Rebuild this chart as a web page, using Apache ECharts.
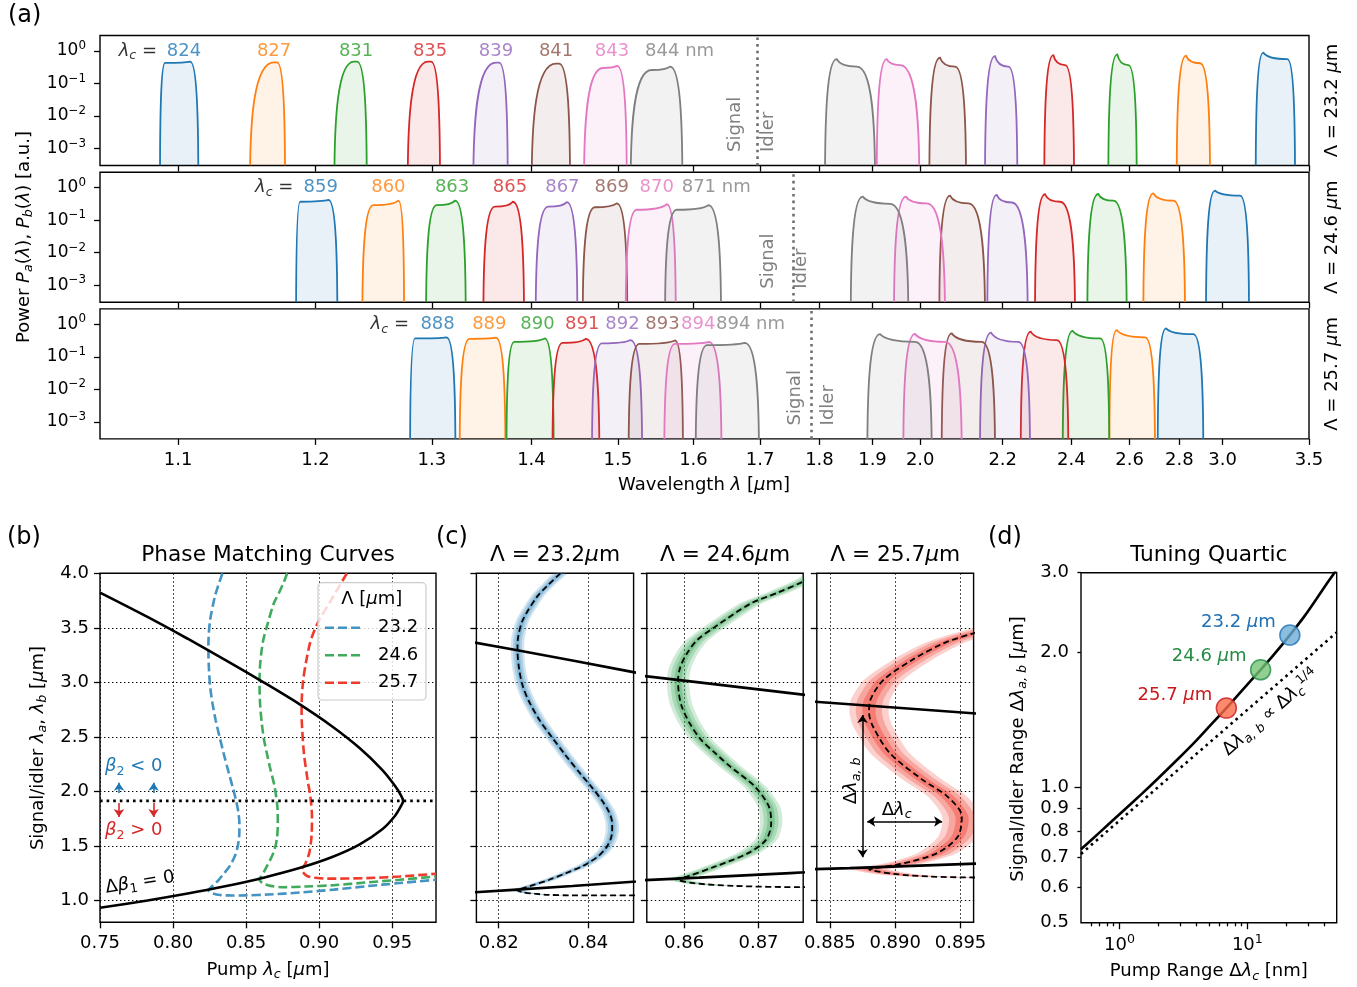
<!DOCTYPE html>
<html>
<head>
<meta charset="utf-8">
<script src="https://cdn.jsdelivr.net/npm/echarts@6/dist/echarts.min.js"></script>
<style>
html,body{margin:0;padding:0;background:#fff;}
#chart{width:1357px;height:987px;}
</style>
</head>
<body>
<div id="chart"></div>
<script>
const FONT = 'DejaVu Sans';
const TAB = ['#1f77b4','#ff7f0e','#2ca02c','#d62728','#9467bd','#8c564b','#e377c2','#7f7f7f'];

// ================= Panel (a): signal / idler spectra =================
const periods = ['23.2', '24.6', '25.7'];
const pumpNm = [
  [824, 827, 831, 835, 839, 841, 843, 844],
  [859, 860, 863, 865, 867, 869, 870, 871],
  [888, 889, 890, 891, 892, 893, 894, 894]
];
// each peak: [left foot λ, left top λ, right top λ, right foot λ, P(left top), P(right top)]  (λ in μm)
const signalPeaks = [
  [[1.0881,1.0914,1.1081,1.1137,0.43,0.47],[1.1502,1.1680,1.1702,1.1763,0.45,0.45],
   [1.2152,1.2314,1.2339,1.2421,0.47,0.47],[1.2780,1.2965,1.2993,1.3077,0.47,0.47],
   [1.3399,1.3627,1.3658,1.3748,0.44,0.44],[1.4003,1.4271,1.4304,1.4429,0.41,0.41],
   [1.4592,1.4818,1.4990,1.5111,0.30,0.35],[1.5161,1.5432,1.5676,1.5845,0.26,0.33]],
  [[1.1848,1.1879,1.2103,1.2176,0.37,0.42],[1.2384,1.2478,1.2696,1.2747,0.29,0.40],
   [1.2947,1.3046,1.3220,1.3324,0.29,0.40],[1.3499,1.3617,1.3801,1.3920,0.26,0.37],
   [1.4046,1.4185,1.4392,1.4514,0.26,0.36],[1.4577,1.4722,1.4986,1.5118,0.25,0.33],
   [1.5098,1.5238,1.5632,1.5754,0.21,0.31],[1.5609,1.5768,1.6213,1.6399,0.21,0.29]],
  [[1.2801,1.2846,1.3138,1.3224,0.37,0.40],[1.3265,1.3362,1.3624,1.3724,0.36,0.39],
   [1.3735,1.3817,1.4144,1.4244,0.29,0.37],[1.4231,1.4344,1.4612,1.4774,0.27,0.36],
   [1.4686,1.4804,1.5158,1.5307,0.26,0.33],[1.5135,1.5271,1.5744,1.5853,0.25,0.32],
   [1.5599,1.5744,1.6221,1.6405,0.25,0.29],[1.6032,1.6195,1.6756,1.6981,0.23,0.27]]
];
const idlerPeaks = [
  [[3.1738,3.2165,3.3595,3.4081,0.89,0.56],[2.7884,2.8288,2.8920,2.9388,0.72,0.42],
   [2.5232,2.5552,2.5954,2.6269,0.79,0.37],[2.3169,2.3439,2.3799,2.4083,0.75,0.37],
   [2.1538,2.1797,2.2151,2.2397,0.70,0.33],[2.0203,2.0446,2.0798,2.1063,0.62,0.33],
   [1.9085,1.9288,1.9564,1.9980,0.56,0.37],[1.8100,1.8314,1.8691,1.9051,0.56,0.33]],
  [[2.9199,2.9628,3.0889,3.1370,0.81,0.57],[2.6523,2.6916,2.7739,2.8244,0.67,0.40],
   [2.4516,2.4886,2.5408,2.5894,0.64,0.40],[2.2897,2.3190,2.3643,2.4115,0.63,0.37],
   [2.1597,2.1842,2.2243,2.2688,0.60,0.35],[2.0430,2.0679,2.1120,2.1538,0.57,0.33],
   [1.9438,1.9692,2.0144,2.0562,0.53,0.33],[1.8577,1.8808,1.9355,1.9741,0.53,0.32]],
  [[2.7093,2.7433,2.8614,2.9073,0.76,0.50],[2.5267,2.5530,2.6589,2.6984,0.67,0.40],
   [2.3727,2.4041,2.4944,2.5267,0.63,0.37],[2.2492,2.2774,2.3542,2.3902,0.60,0.33],
   [2.1411,2.1693,2.2425,2.2754,0.56,0.29],[2.0485,2.0719,2.1454,2.1797,0.53,0.29],
   [1.9634,1.9886,2.0562,2.0959,0.51,0.29],[1.8898,1.9151,1.9886,2.0257,0.50,0.29]]
];
const pumpLabelAt = [
  [1.1040,1.1680,1.2331,1.2984,1.3627,1.4271,1.4928,1.5345],
  [1.2042,1.2608,1.3192,1.3772,1.4342,1.4924,1.5498,1.5836],
  [1.3054,1.3559,1.4066,1.4570,1.5058,1.5575,1.6068,1.6325]
];
const lambdaEqAt = [1.0862, 1.1827, 1.2791];
const degenerateAt = [1.689, 1.743, 1.789];
const wavelengthTicks = [1.1,1.2,1.3,1.4,1.5,1.6,1.7,1.8,1.9,2.0,2.2,2.4,2.6,2.8,3.0,3.5];
const powerTicks = [1e-3, 1e-2, 1e-1, 1];

// ================= Panels (b),(c): phase matching =================
const zeroGVM = [[0.750,3.823],[0.7825,3.6],[0.810,3.4],[0.8365,3.2],[0.862,3.0],[0.8865,2.8],
  [0.9085,2.6],[0.9275,2.4],[0.943,2.2],[0.952,2.05],[0.9562,1.96],[0.9575,1.913],[0.9562,1.87],
  [0.952,1.777],[0.943,1.650],[0.9275,1.512],[0.9085,1.396],[0.8865,1.297],[0.862,1.2095],
  [0.8365,1.1326],[0.810,1.0633],[0.7825,0.9998],[0.750,0.9331]];
const pm232 = [[0.8338,4.0],[0.8310,3.89],[0.8286,3.786],[0.8254,3.572],[0.8243,3.40],[0.8242,3.297],
  [0.8246,3.114],[0.8255,2.95],[0.8270,2.808],[0.8292,2.65],[0.8318,2.503],[0.8350,2.33],[0.8382,2.167],
  [0.8408,2.04],[0.8430,1.923],[0.8447,1.81],[0.8454,1.709],[0.8454,1.63],[0.8450,1.556],[0.8440,1.48],
  [0.8422,1.403],[0.8390,1.32],[0.8350,1.25],[0.8313,1.19],[0.8278,1.143],[0.8252,1.11],[0.8240,1.098],
  [0.8255,1.075],[0.8280,1.062],[0.8310,1.052],[0.8360,1.047],[0.8406,1.046],[0.8500,1.047],[0.8650,1.055],
  [0.8870,1.073],[0.9100,1.10],[0.9320,1.13],[0.9550,1.16],[0.9800,1.19]];
const pm246 = [[0.8781,4.0],[0.8760,3.924],[0.8725,3.82],[0.8690,3.725],[0.8642,3.511],[0.8618,3.39],
  [0.8604,3.267],[0.8595,3.14],[0.8592,3.022],[0.8593,2.90],[0.8597,2.778],[0.8608,2.62],[0.8623,2.473],
  [0.8642,2.35],[0.8662,2.228],[0.8695,2.045],[0.8714,1.861],[0.8717,1.709],[0.8710,1.556],[0.8686,1.434],
  [0.8642,1.312],[0.8604,1.22],[0.8589,1.196],[0.8613,1.159],[0.8666,1.134],[0.8760,1.122],[0.8900,1.128],
  [0.9100,1.14],[0.9320,1.165],[0.9550,1.19],[0.9800,1.22]];
const pm257 = [[0.9190,4.0],[0.9080,3.75],[0.9000,3.57],[0.8960,3.45],[0.8937,3.358],[0.8913,3.206],
  [0.8891,3.022],[0.8881,2.839],[0.8880,2.72],[0.8883,2.595],[0.8896,2.35],[0.8921,2.106],[0.8940,1.953],
  [0.8951,1.77],[0.8948,1.587],[0.8932,1.434],[0.8907,1.342],[0.8885,1.296],[0.8880,1.287],[0.8899,1.244],
  [0.8926,1.22],[0.8960,1.211],[0.9050,1.20],[0.9320,1.205],[0.9550,1.22],[0.9800,1.245]];
const beta2Zero = 1.913;
const pmColors = ['#4393c3', '#41ab5d', '#ef3b2c'];
const cRanges = [[0.815, 0.8502, [0.82, 0.84], 2], [0.855, 0.876, [0.86, 0.87], 2], [0.884, 0.896, [0.885, 0.890, 0.895], 3]];

// ================= Panel (d): tuning =================
const tuningCurve = [[0.5,0.728],[0.7,0.794],[1,0.871],[1.5,0.968],[2,1.046],[3,1.171],[4,1.272],[5,1.362],
  [6.85,1.50],[9,1.637],[12.7,1.825],[16,1.967],[21.5,2.18],[28,2.402],[35,2.632],[42,2.841],[48,3.0],[52,3.12]];
const powerLaw = [[0.5,0.711],[50,2.21]];
const tuningPoints = [[21.5,2.18],[12.7,1.825],[6.85,1.50]];
const pointFill = ['#6baed6','#74c476','#fb6a4a'];
const pointEdge = ['#2171b5','#238b45','#cb181d'];
const pointText = ['#2171b5','#238b45','#cb181d'];

// ================= helpers =================
function hexA(hex, a){ const n = parseInt(hex.slice(1),16); return 'rgba('+((n>>16)&255)+','+((n>>8)&255)+','+(n&255)+','+a+')'; }
function richL(fs, color){
  const s = fs*0.7;
  return {
    i:{fontFamily:FONT,fontSize:fs,color:color,fontStyle:'italic',lineHeight:fs*1.3},
    is:{fontFamily:FONT,fontSize:s,color:color,fontStyle:'italic',verticalAlign:'bottom',lineHeight:s},
    s:{fontFamily:FONT,fontSize:s,color:color,verticalAlign:'bottom',lineHeight:s},
    sup:{fontFamily:FONT,fontSize:s,color:color,verticalAlign:'top',lineHeight:s},
    b:{fontFamily:FONT,fontSize:fs,color:color,lineHeight:fs*1.3}
  };
}
function richG(fs, color){
  const s = fs*0.7;
  return {
    i:{fontFamily:FONT,fontSize:fs,fill:color,fontStyle:'italic',lineHeight:fs*1.3},
    is:{fontFamily:FONT,fontSize:s,fill:color,fontStyle:'italic',verticalAlign:'bottom',lineHeight:s},
    s:{fontFamily:FONT,fontSize:s,fill:color,verticalAlign:'bottom',lineHeight:s},
    sup:{fontFamily:FONT,fontSize:s,fill:color,verticalAlign:'top',lineHeight:s}
  };
}
const tickOut = len => ({show:true, inside:false, length:len, lineStyle:{color:'#000', width:1.3}});
const gridBase = {show:true, borderColor:'#000', borderWidth:1.4, backgroundColor:'rgba(0,0,0,0)', containLabel:false, outerBoundsMode:'none'};
const dotted = {color:'#000', width:1, type:[1.4,2.6]};

const grids = [], xAxes = [], yAxes = [], series = [];

// ---------- (a) ----------
const rowTops = [35.5, 172.2, 308.9];
const NU_MIN = 1/3.5, NU_MAX = 1/1.0503;
function renderPeak(params, api){
  const v = k => api.value(k);
  const floor = 1e-4;
  const pL = api.coord([1/v(0), floor]), pA = api.coord([1/v(1), v(4)]);
  const pB = api.coord([1/v(2), v(5)]), pR = api.coord([1/v(3), floor]);
  const col = TAB[v(6)];
  const wl = pA[0]-pL[0], hl = pL[1]-pA[1], wr = pR[0]-pB[0], hr = pR[1]-pB[1];
  let cx, cy;
  if (pA[1] <= pB[1]) { cx = pA[0] + 0.2*(pB[0]-pA[0]); cy = pB[1]; }
  else { cx = pB[0] - 0.2*(pB[0]-pA[0]); cy = pA[1]; }
  const d = ['M',pL[0],pL[1],'C',pL[0],pL[1]-0.5*hl,pL[0]+0.15*wl,pA[1],pA[0],pA[1],
    'Q',cx,cy,pB[0],pB[1],'C',pR[0]-0.15*wr,pB[1],pR[0],pB[1]+0.5*hr,pR[0],pR[1],'Z'].join(' ');
  const cs = params.coordSys;
  return {type:'path', shape:{pathData:d}, style:{fill:hexA(col,0.1), stroke:col, lineWidth:1.8},
    clipPath:{type:'rect', shape:{x:cs.x, y:cs.y, width:cs.width, height:cs.height}}};
}
for (let r=0; r<3; r++){
  grids.push(Object.assign({left:100, top:rowTops[r], width:1209, height:130}, gridBase));
  const nuTicks = wavelengthTicks.map(l => 1/l);
  xAxes.push({type:'value', gridIndex:r, position:'bottom', inverse:true, min:NU_MIN, max:NU_MAX,
    axisLine:{show:false}, splitLine:{show:false},
    axisTick:Object.assign(tickOut(6), {customValues:nuTicks}),
    axisLabel:{show:r===2, customValues:nuTicks, formatter:v => (1/v).toFixed(1), fontSize:18, fontFamily:FONT, color:'#000', margin:12}});
  yAxes.push({type:'log', logBase:10, gridIndex:r, position:'left', min:3e-4, max:3,
    axisLine:{show:false}, splitLine:{show:false}, minorTick:{show:false},
    axisTick:Object.assign(tickOut(6), {customValues:powerTicks}),
    axisLabel:{customValues:powerTicks, margin:14, fontSize:17, fontFamily:FONT, color:'#000',
      formatter:v => { const e = Math.round(Math.log10(v)); return '{b|10}{sup|' + (e<0 ? '\u2212'+(-e) : e) + '}'; },
      rich:richL(17,'#000')}});
  const items = [];
  signalPeaks[r].forEach((p,i) => items.push(p.concat([i])));
  idlerPeaks[r].forEach((p,i) => items.push(p.concat([i])));
  series.push({type:'custom', xAxisIndex:r, yAxisIndex:r, silent:true, clip:true, renderItem:renderPeak, data:items, z:3});
  const lab = pumpNm[r].map((nm,i) => ({value:[1/pumpLabelAt[r][i], 1],
    label:{formatter: i===7 ? nm+' nm' : String(nm), color:TAB[i], align: i===7 ? 'left' : 'center'}}));
  lab.push({value:[1/lambdaEqAt[r], 1], label:{formatter:'{i|λ}{is|c} =', color:'#000', align:'right', rich:richL(18,'#000')}});
  series.push({type:'scatter', xAxisIndex:r, yAxisIndex:r, silent:true, symbolSize:1, itemStyle:{color:'rgba(0,0,0,0)'},
    label:{show:true, position:'inside', fontSize:18, fontFamily:FONT, verticalAlign:'middle', lineHeight:23},
    data:lab, z:4,
    markLine:{silent:true, symbol:['none','none'], label:{show:false}, animation:false,
      lineStyle:{color:'#6f6f6f', width:2.6, type:[2.6,4]}, data:[{xAxis:1/degenerateAt[r]}]}});
}

// ---------- (b) ----------
grids.push(Object.assign({left:100, top:573.3, width:336, height:349}, gridBase));
const bX = [0.75,0.80,0.85,0.90,0.95];
const bY = [1.0,1.5,2.0,2.5,3.0,3.5,4.0];
xAxes.push({type:'value', gridIndex:3, position:'bottom', min:0.75, max:0.98, interval:0.05, axisLine:{show:false},
  axisTick:Object.assign(tickOut(6), {customValues:bX}),
  axisLabel:{customValues:bX, formatter:v => v.toFixed(2), fontSize:18, fontFamily:FONT, color:'#000', margin:12},
  splitLine:{show:true, lineStyle:dotted}});
yAxes.push({type:'value', gridIndex:3, position:'left', min:0.8, max:4.0, splitNumber:6, axisLine:{show:false},
  axisTick:Object.assign(tickOut(6), {customValues:bY}),
  axisLabel:{customValues:bY, formatter:v => v.toFixed(1), fontSize:18, fontFamily:FONT, color:'#000', margin:11},
  splitLine:{show:true, lineStyle:dotted}});
const pmCurves = [pm232, pm246, pm257];
series.push({type:'line', xAxisIndex:3, yAxisIndex:3, data:zeroGVM, showSymbol:false, smooth:0.3, silent:true,
  lineStyle:{color:'#000', width:2.6}, z:5});
pmCurves.forEach((c,k) => series.push({type:'line', xAxisIndex:3, yAxisIndex:3, data:c, showSymbol:false, smooth:0.3, silent:true,
  lineStyle:{color:pmColors[k], width:2.6, type:[9,4]}, z:4}));
series.push({type:'line', xAxisIndex:3, yAxisIndex:3, data:[[0.75,beta2Zero],[0.98,beta2Zero]], showSymbol:false, silent:true,
  lineStyle:{color:'#000', width:2.6, type:[2.6,4]}, z:5,
  markLine:{silent:true, animation:false, label:{show:false}, symbol:['none','arrow'], symbolSize:8,
    data:[
      [{coord:[0.763,1.985], lineStyle:{color:TAB[0], width:1.6, type:'solid'}}, {coord:[0.763,2.08]}],
      [{coord:[0.7867,1.985], lineStyle:{color:TAB[0], width:1.6, type:'solid'}}, {coord:[0.7867,2.08]}],
      [{coord:[0.763,1.895], lineStyle:{color:TAB[3], width:1.6, type:'solid'}}, {coord:[0.763,1.765]}],
      [{coord:[0.7867,1.895], lineStyle:{color:TAB[3], width:1.6, type:'solid'}}, {coord:[0.7867,1.765]}]
    ]}});

// ---------- (c) ----------
const cLefts = [[476.4,157.2],[646.8,156.4],[816.8,156.8]];
function bandSeries(g, curve, color){
  const deltas = [0.0015, 0.001, 0.0005];
  const alphas = [0.24, 0.28, 0.38];
  return {type:'custom', xAxisIndex:g, yAxisIndex:g, silent:true, clip:true, z:2, data:[curve[0]],
    renderItem:(params, api) => {
      const cs = params.coordSys;
      const children = deltas.map((d,k) => {
        const left = curve.map(p => api.coord([p[0]-d, p[1]]));
        const right = curve.map(p => api.coord([p[0]+d, p[1]])).reverse();
        return {type:'polygon', shape:{points:left.concat(right), smooth:0.25}, style:{fill:hexA(color, alphas[k])}};
      });
      return {type:'group', children:children, clipPath:{type:'rect', shape:{x:cs.x, y:cs.y, width:cs.width, height:cs.height}}};
    }};
}
for (let k=0; k<3; k++){
  const g = 4+k;
  grids.push(Object.assign({left:cLefts[k][0], top:573.3, width:cLefts[k][1], height:349}, gridBase));
  const rg = cRanges[k];
  xAxes.push({type:'value', gridIndex:g, position:'bottom', min:rg[0], max:rg[1], splitNumber:2, axisLine:{show:false},
    axisTick:Object.assign(tickOut(6), {customValues:rg[2]}),
    axisLabel:{customValues:rg[2], formatter:v => v.toFixed(rg[3]), fontSize:18, fontFamily:FONT, color:'#000', margin:12},
    splitLine:{show:true, lineStyle:dotted}});
  yAxes.push({type:'value', gridIndex:g, position:'left', min:0.8, max:4.0, splitNumber:6, axisLine:{show:false},
    axisTick:Object.assign(tickOut(6), {customValues:bY}),
    axisLabel:{show:false}, splitLine:{show:true, lineStyle:dotted}});
  series.push(bandSeries(g, pmCurves[k], pmColors[k]));
  const dashed = {type:'line', xAxisIndex:g, yAxisIndex:g, data:pmCurves[k], showSymbol:false, smooth:0.3, silent:true,
    lineStyle:{color:'#000', width:1.8, type:[6,3.5]}, z:4};
  if (k===2){
    dashed.markLine = {silent:true, animation:false, label:{show:false}, symbol:['arrow','arrow'], symbolSize:8,
      lineStyle:{color:'#000', width:1.5, type:'solid'},
      data:[[{coord:[0.8875,2.70]},{coord:[0.8875,1.397]}], [{coord:[0.88786,1.724]},{coord:[0.89359,1.724]}]]};
  }
  series.push(dashed);
  series.push({type:'line', xAxisIndex:g, yAxisIndex:g, data:zeroGVM, showSymbol:false, smooth:0.3, silent:true,
    lineStyle:{color:'#000', width:2.6}, z:5});
}

// ---------- (d) ----------
grids.push(Object.assign({left:1081, top:572.7, width:255.7, height:350}, gridBase));
const dXmajor = [1, 10];
const dXminor = [0.6,0.7,0.8,0.9,2,3,4,5,6,7,8,9,20,30,40];
const dYlabels = [0.5,0.6,0.7,0.8,0.9,1.0,2.0,3.0];
const dYminor = [0.6,0.7,0.8,0.9,2.0];
xAxes.push({type:'log', logBase:10, gridIndex:7, position:'bottom', offset:0, min:0.5, max:50, axisLine:{show:false}, splitLine:{show:false}, minorTick:{show:false},
  axisTick:Object.assign(tickOut(6.5), {customValues:dXmajor}),
  axisLabel:{customValues:dXmajor, margin:11, fontSize:18, fontFamily:FONT, color:'#000',
    formatter:v => '{b|10}{sup|' + Math.round(Math.log10(v)) + '}', rich:richL(18,'#000')}});
xAxes.push({type:'log', logBase:10, gridIndex:7, position:'bottom', offset:0, min:0.5, max:50, axisLine:{show:false}, splitLine:{show:false}, minorTick:{show:false},
  axisTick:Object.assign(tickOut(3.6), {customValues:dXminor}), axisLabel:{show:false}});
yAxes.push({type:'log', logBase:10, gridIndex:7, position:'left', offset:0, min:0.5, max:3.0, axisLine:{show:false}, splitLine:{show:false}, minorTick:{show:false},
  axisTick:Object.assign(tickOut(6.5), {customValues:[1.0]}),
  axisLabel:{customValues:dYlabels, formatter:v => v.toFixed(1), fontSize:18, fontFamily:FONT, color:'#000', margin:12}});
yAxes.push({type:'log', logBase:10, gridIndex:7, position:'left', offset:0, min:0.5, max:3.0, axisLine:{show:false}, splitLine:{show:false}, minorTick:{show:false},
  axisTick:Object.assign(tickOut(3.6), {customValues:dYminor.concat([3.0])}), axisLabel:{show:false}});
series.push({type:'line', xAxisIndex:7, yAxisIndex:7, data:tuningCurve, showSymbol:false, smooth:0.3, silent:true,
  lineStyle:{color:'#000', width:2.6}, z:4});
series.push({type:'line', xAxisIndex:7, yAxisIndex:7, data:powerLaw, showSymbol:false, silent:true,
  lineStyle:{color:'#000', width:2.6, type:[2.6,4]}, z:4});
series.push({type:'scatter', xAxisIndex:7, yAxisIndex:7, silent:true, symbolSize:20, z:6,
  data:tuningPoints.map((p,i) => ({value:p, itemStyle:{color:pointFill[i], borderColor:pointEdge[i], borderWidth:1.5}}))});

const option = {
  animation:false,
  backgroundColor:'#fff',
  textStyle:{fontFamily:FONT},
  grid:grids, xAxis:xAxes, yAxis:yAxes, series:series
};
const chart = echarts.init(document.getElementById('chart'), null, {width:1357, height:987, renderer:'canvas'});
chart.setOption(option);

// ================= text annotations =================
const G = [];
function txt(x, y, text, o){
  o = o || {};
  const fs = o.size || 18, col = o.color || '#000';
  G.push({type:'text', x:x, y:y, rotation:o.rot || 0, z:100, silent:true,
    style:{text:text, fill:col, fontSize:fs, fontFamily:FONT, align:o.align || 'center', verticalAlign:o.va || 'middle',
      lineHeight:fs*1.3, rich:richG(fs, col)}});
}
function px(g, x, y){ return chart.convertToPixel({xAxisIndex:g, yAxisIndex:g}, [x, y]); }
const R90 = Math.PI/2;

// panel letters
txt(8, 16, '(a)', {size:24, align:'left'});
txt(7, 538, '(b)', {size:24, align:'left'});
txt(436, 538, '(c)', {size:24, align:'left'});
txt(988, 538, '(d)', {size:24, align:'left'});

// (a)
txt(24, 237, 'Power {i|P}{is|a}({i|λ}), {i|P}{is|b}({i|λ}) [a.u.]', {rot:R90});
txt(704, 485, 'Wavelength {i|λ} [{i|μ}m]');
for (let r=0; r<3; r++){
  txt(1332, rowTops[r]+65, 'Λ = ' + periods[r] + ' {i|μ}m', {rot:R90});
  const p = px(r, 1/degenerateAt[r], 7.8e-4);
  txt(p[0]-18, p[1], 'Signal', {rot:R90, align:'left', color:'#808080'});
  txt(p[0]+15, p[1], 'Idler', {rot:R90, align:'left', color:'#808080'});
}

// (b)
txt(268, 555, 'Phase Matching Curves', {size:21.7});
txt(38, 748, 'Signal/idler {i|λ}{is|a}, {i|λ}{is|b} [{i|μ}m]', {rot:R90});
txt(268, 970, 'Pump {i|λ}{is|c} [{i|μ}m]');
let p = px(3, 0.7534, 2.227); txt(p[0], p[1], '{i|β}{s|2} < 0', {align:'left', color:TAB[0]});
p = px(3, 0.7534, 1.641); txt(p[0], p[1], '{i|β}{s|2} > 0', {align:'left', color:TAB[3]});
p = px(3, 0.7774, 1.164); txt(p[0], p[1], 'Δ{i|β}{s|1} = 0', {rot:9*Math.PI/180});
// legend
G.push({type:'rect', z:90, silent:true, shape:{x:318, y:582.7, width:108, height:117.3, r:4},
  style:{fill:'rgba(255,255,255,0.8)', stroke:'#cccccc', lineWidth:1.2}});
txt(371.7, 599, 'Λ [{i|μ}m]');
periods.forEach((pr,k) => {
  const y = 627.7 + 27.5*k;
  G.push({type:'line', z:95, silent:true, shape:{x1:325, y1:y, x2:363, y2:y},
    style:{stroke:pmColors[k], lineWidth:2.6, lineDash:[9,4]}});
  txt(378, y, pr, {align:'left'});
});

// (c)
for (let k=0; k<3; k++){
  txt(cLefts[k][0] + cLefts[k][1]/2, 555, 'Λ = ' + periods[k] + '{i|μ}m', {size:21.7});
}
p = px(6, 0.88663, 2.096); txt(p[0], p[1], 'Δ{i|λ}{is|a, b}', {rot:R90});
p = px(6, 0.89011, 1.830); txt(p[0], p[1], 'Δ{i|λ}{is|c}');

// (d)
txt(1208.8, 555, 'Tuning Quartic', {size:21.7});
txt(1018, 749, 'Signal/Idler Range Δ{i|λ}{is|a, b} [{i|μ}m]', {rot:R90});
txt(1208.8, 971.7, 'Pump Range Δ{i|λ}{is|c} [nm]');
tuningPoints.forEach((pt,i) => {
  const q = px(7, pt[0], pt[1]);
  txt(q[0]-14, q[1]-13, periods[i] + ' {i|μ}m', {align:'right', color:pointText[i]});
});
p = px(7, 15.27, 1.465);
txt(p[0], p[1], 'Δ{i|λ}{is|a, b} ∝ Δ{i|λ}{is|c}{sup|1/4}', {rot:41*Math.PI/180});

chart.setOption({graphic:{elements:G}});
</script>
</body>
</html>
